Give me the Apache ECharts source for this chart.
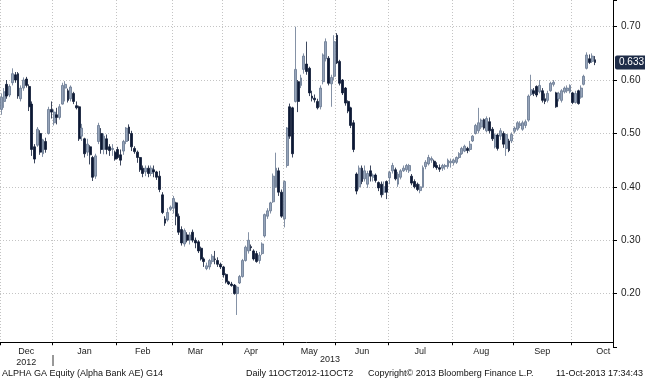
<!DOCTYPE html>
<html><head><meta charset="utf-8">
<script src="https://cdn.jsdelivr.net/npm/echarts@6/dist/echarts.min.js"></script>
<style>html,body{margin:0;padding:0;background:#fff}#c{width:645px;height:380px}</style>
</head><body><div id="c"></div>
<script>
// ---- data ----
const monthNames = ['Dec','Jan','Feb','Mar','Apr','May','Jun','Jul','Aug','Sep','Oct'];
const monthBars  = [19,23,20,18,22,19,19,23,22,21,9];
const monthSpan  = [19,23,20,18,22,19,19,23,22,21,23]; // full-month width used to centre labels
const padBars = 6;
const yearLabels = ['2012','2013'];
const yTickLabels = [0.2,0.3,0.4,0.5,0.6,0.7];

const opens = [
 .545,.56,.592,.572,.595,.61,.612,.565,.585,.602,.588,.555,.475,.478,.50,.462,.485,.50,.545,
 .52,.535,.53,.555,.585,.58,.565,.575,.552,.55,.495,.49,.465,.475,.455,.42,.485,.50,.47,.49,.475,.47,.465,
 .47,.46,.467,.485,.512,.50,.472,.465,.455,.435,.428,.435,.425,.432,.428,.42,.385,.34,.338,.358,
 .36,.37,.345,.32,.293,.31,.30,.315,.30,.297,.285,.265,.247,.25,.26,.265,.262,.255,
 .25,.236,.222,.218,.216,.20,.22,.232,.262,.28,.288,.28,.275,.262,.275,.308,.345,.355,.372,.40,.43,.39,
 .34,.44,.55,.548,.56,.597,.59,.62,.63,.622,.57,.566,.56,.55,.597,.64,.641,.593,.607,
 .684,.635,.60,.585,.56,.548,.52,.424,.40,.435,.415,.405,.43,.418,.422,.408,.405,.39,.41,
 .417,.43,.432,.405,.418,.43,.432,.43,.42,.41,.405,.393,.40,.438,.443,.45,.448,.44,.436,.435,.438,.438,.445,
 .445,.446,.455,.462,.467,.472,.47,.486,.50,.505,.512,.526,.505,.522,.508,.475,.497,.495,.50,.472,.486,.486,
 .504,.508,.515,.508,.515,.525,.573,.58,.588,.578,.58,.565,.562,.58,.592,.576,.565,.562,.578,.58,.578,
 .576,.558,.58,.568,.592,.622,.64,.635,.638
];
const closes = [
 .568,.578,.57,.588,.612,.60,.57,.585,.60,.59,.55,.47,.452,.508,.465,.488,.47,.545,.54,
 .54,.53,.55,.59,.592,.562,.587,.56,.548,.49,.51,.462,.48,.46,.418,.458,.515,.47,.495,.47,.468,.472,.452,
 .455,.45,.485,.51,.50,.475,.466,.455,.432,.425,.435,.425,.435,.428,.418,.395,.352,.332,.352,.362,
 .378,.345,.315,.295,.318,.30,.31,.30,.295,.28,.265,.26,.252,.262,.27,.264,.255,.25,
 .235,.222,.218,.215,.20,.212,.232,.262,.287,.30,.286,.265,.26,.272,.293,.348,.355,.37,.42,.435,.39,.345,
 .41,.51,.495,.462,.62,.56,.604,.645,.616,.576,.566,.563,.548,.585,.647,.672,.594,.605,.672,
 .632,.594,.576,.557,.542,.515,.47,.392,.435,.41,.43,.425,.42,.422,.412,.398,.385,.40,.39,
 .427,.44,.415,.424,.43,.435,.44,.44,.407,.40,.395,.40,.436,.446,.455,.453,.438,.436,.433,.44,.44,.45,.448,
 .45,.455,.462,.472,.476,.468,.48,.495,.515,.52,.525,.51,.528,.505,.49,.497,.472,.505,.48,.498,.468,.498,
 .51,.52,.518,.52,.522,.57,.582,.575,.572,.59,.562,.56,.575,.594,.596,.55,.575,.58,.585,.585,.59,
 .558,.575,.556,.585,.607,.647,.633,.645,.633
];
const lows = [
 .535,.548,.565,.568,.59,.595,.565,.56,.58,.586,.542,.458,.444,.475,.46,.456,.464,.498,.528,
 .515,.517,.526,.554,.56,.558,.56,.555,.545,.486,.486,.455,.458,.442,.411,.415,.48,.462,.461,.461,.458,.458,.449,
 .452,.44,.46,.48,.486,.467,.462,.445,.428,.418,.42,.418,.42,.418,.413,.39,.349,.327,.335,.355,
 .35,.328,.31,.29,.288,.296,.292,.296,.285,.276,.262,.25,.244,.245,.255,.255,.25,.246,
 .23,.219,.216,.213,.198,.16,.218,.23,.26,.275,.28,.262,.258,.256,.272,.305,.34,.35,.37,.398,.383,.342,
 .324,.436,.49,.455,.558,.54,.585,.612,.61,.57,.56,.558,.545,.545,.592,.635,.59,.55,.60,
 .63,.59,.572,.552,.538,.51,.465,.386,.395,.405,.41,.398,.41,.41,.408,.392,.38,.385,.377,
 .405,.425,.412,.40,.414,.428,.428,.426,.403,.397,.392,.388,.398,.433,.44,.445,.435,.432,.428,.43,.432,.434,.436,
 .44,.443,.452,.46,.465,.463,.466,.484,.498,.50,.508,.507,.502,.50,.486,.472,.468,.488,.473,.458,.465,.482,
 .50,.505,.51,.505,.51,.522,.57,.57,.568,.575,.558,.555,.558,.578,.588,.548,.56,.558,.575,.576,.575,
 .555,.556,.554,.565,.59,.62,.63,.632,.628
];
const highs = [
 .575,.585,.60,.592,.622,.615,.615,.59,.605,.606,.592,.56,.48,.512,.506,.49,.492,.55,.56,
 .545,.548,.555,.595,.598,.584,.59,.578,.56,.552,.518,.492,.49,.478,.458,.462,.52,.51,.50,.498,.48,.48,.468,
 .475,.47,.488,.512,.517,.505,.476,.468,.456,.44,.44,.44,.44,.44,.43,.43,.39,.345,.36,.365,
 .383,.372,.35,.326,.322,.315,.315,.32,.305,.30,.288,.268,.258,.265,.274,.28,.268,.258,
 .252,.238,.224,.222,.218,.215,.235,.265,.29,.315,.292,.283,.28,.278,.296,.35,.36,.372,.425,.464,.436,.395,
 .412,.512,.556,.55,.70,.60,.61,.65,.672,.625,.58,.573,.565,.59,.65,.678,.645,.61,.684,
 .688,.638,.602,.587,.562,.55,.525,.427,.44,.44,.44,.43,.44,.425,.425,.41,.41,.41,.412,
 .43,.445,.436,.428,.433,.44,.443,.443,.424,.414,.408,.405,.44,.45,.46,.457,.451,.446,.442,.443,.443,.453,.453,
 .453,.457,.465,.475,.479,.475,.486,.497,.518,.548,.528,.528,.532,.53,.512,.50,.50,.51,.504,.50,.49,.502,
 .513,.523,.523,.524,.526,.573,.61,.585,.59,.60,.585,.575,.58,.597,.60,.578,.578,.583,.588,.59,.592,
 .578,.58,.582,.59,.61,.652,.648,.65,.645
];

// ---- build axis categories ----
const categories = [];
const monthStartIdx = new Set();
const labelAt = {};
let idx = 0;
monthNames.forEach((m, i) => {
  monthStartIdx.add(idx);
  labelAt[idx + Math.floor((monthSpan[i] - 1) / 2)] = (i === 0) ? m + '\n' + yearLabels[0] : m;
  for (let d = 0; d < monthBars[i]; d++) categories.push(m + ' ' + (d + 1));
  idx += monthBars[i];
});
for (let k = 0; k < padBars; k++) categories.push('Oct ' + (monthBars[10] + k + 1));

const ohlc = opens.map((o, i) => [o, closes[i], lows[i], highs[i]]);
const lastClose = closes[closes.length - 1];

const FONT = 'Liberation Sans';
const chart = echarts.init(document.getElementById('c'), null, {renderer: 'canvas'});
chart.setOption({
  animation: false,
  backgroundColor: '#ffffff',
  textStyle: { fontFamily: FONT },
  grid: { left: 0, right: 32, top: -2, bottom: 33 },
  xAxis: {
    type: 'category',
    data: categories,
    boundaryGap: true,
    offset: -5,
    axisLine: { show: true, lineStyle: { color: '#000', width: 1 } },
    axisTick: { show: true, length: 3, interval: (i) => monthStartIdx.has(i), lineStyle: { color: '#000' } },
    axisLabel: {
      interval: (i) => labelAt[i] !== undefined,
      formatter: (v, i) => labelAt[i] || '',
      color: '#222', fontSize: 9, margin: 4, lineHeight: 11, fontFamily: FONT
    },
    splitLine: { show: true, interval: (i) => monthStartIdx.has(i),
      lineStyle: { color: '#c4c4c4', width: 1, type: [1, 2] } }
  },
  yAxis: {
    type: 'value',
    position: 'right',
    min: 0.1, max: 0.75, interval: 0.1,
    axisLine: { show: true, lineStyle: { color: '#000', width: 1 } },
    axisTick: { show: true, length: 4, lineStyle: { color: '#000' } },
    axisLabel: {
      formatter: (v) => yTickLabels.some(t => Math.abs(t - v) < 1e-6) ? v.toFixed(2) : '',
      margin: 8, fontSize: 10, color: '#222', fontFamily: FONT
    },
    splitLine: { show: true, showMinLine: false, showMaxLine: false,
      lineStyle: { color: '#c4c4c4', width: 1, type: [1, 2] } }
  },
  series: [{
    type: 'candlestick',
    data: ohlc,
    clip: false,
    barWidth: 2.4,
    itemStyle: {
      color: '#96a4ba', color0: '#0d1935',
      borderColor: '#66768f', borderColor0: '#0d1935', borderWidth: 0.8
    },
    markLine: {
      silent: true, symbol: ['none', 'none'], animation: false, precision: 3,
      lineStyle: { color: 'rgba(0,0,0,0)', width: 0.01, type: 'solid' },
      label: {
        show: true, position: 'end', distance: 2, opacity: 1,
        formatter: () => lastClose.toFixed(3),
        color: '#ffffff', backgroundColor: '#1e2c48', padding: [2, 3, 2, 4],
        fontSize: 10, fontFamily: FONT, borderRadius: 2
      },
      emphasis: { disabled: true },
      data: [{ yAxis: lastClose }]
    }
  }],
  graphic: [
    { type: 'text', left: 320, top: 355, style: { text: yearLabels[1], font: '9px ' + FONT, fill: '#222' } },
    { type: 'line', shape: { x1: 53, y1: 355, x2: 53, y2: 366 }, style: { stroke: '#333', lineWidth: 1 } },
    { type: 'text', left: 2, top: 369, style: { text: 'ALPHA GA Equity (Alpha Bank AE) G14', font: '9px ' + FONT, fill: '#111' } },
    { type: 'text', left: 246, top: 369, style: { text: 'Daily 11OCT2012-11OCT2', font: '9px ' + FONT, fill: '#111' } },
    { type: 'text', left: 368, top: 369, style: { text: 'Copyright\u00A9 2013 Bloomberg Finance L.P.', font: '9px ' + FONT, fill: '#111' } },
    { type: 'text', right: 2, top: 369, style: { text: '11-Oct-2013 17:34:43', font: '9px ' + FONT, fill: '#111' } }
  ]
});
</script>
</body></html>
